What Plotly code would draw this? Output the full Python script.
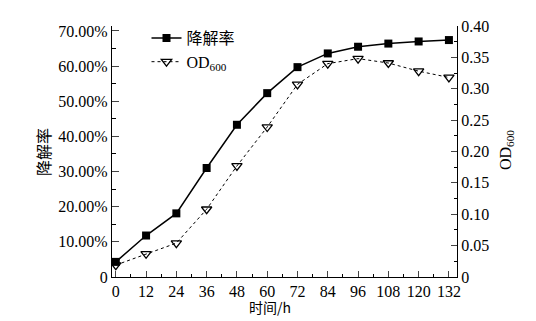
import plotly.graph_objects as go

hours = [0, 12, 24, 36, 48, 60, 72, 84, 96, 108, 120, 132]
degradation = [0.043, 0.118, 0.181, 0.310, 0.433, 0.523, 0.597, 0.636, 0.655, 0.664, 0.670, 0.674]
od600 = [0.019, 0.037, 0.054, 0.108, 0.177, 0.239, 0.307, 0.340, 0.348, 0.341, 0.328, 0.318]

left_ticks = [0, 0.1, 0.2, 0.3, 0.4, 0.5, 0.6, 0.7]
left_labels = ["0", "10.00%", "20.00%", "30.00%", "40.00%", "50.00%", "60.00%", "70.00%"]
right_ticks = [0, 0.05, 0.10, 0.15, 0.20, 0.25, 0.30, 0.35, 0.40]
right_labels = ["0", "0.05", "0.10", "0.15", "0.20", "0.25", "0.30", "0.35", "0.40"]

serif = "Liberation Serif"
cjk = "Noto Sans CJK SC"

fig = go.Figure()
fig.add_trace(go.Scatter(
    x=hours, y=degradation, name="降解率", mode="lines+markers",
    line=dict(color="black", width=1.5),
    marker=dict(symbol="square", size=8, color="black"),
    yaxis="y"))
fig.add_trace(go.Scatter(
    x=hours, y=od600, name="OD<sub>600</sub>", mode="lines+markers",
    line=dict(color="black", width=1, dash="dot"),
    marker=dict(symbol="triangle-down-open", size=9, color="black", line=dict(width=1.3)),
    yaxis="y2"))

fig.update_layout(
    width=536, height=321,
    margin=dict(l=112, r=79, t=26, b=44, autoexpand=False),
    paper_bgcolor="white", plot_bgcolor="white",
    font=dict(family=serif, size=16, color="black"),
    showlegend=True,
    legend=dict(x=0.1, y=1.02, xanchor="left", yanchor="top",
                bgcolor="rgba(0,0,0,0)", font=dict(family=serif + ", " + cjk, size=16),
                itemwidth=30, tracegroupgap=0),
    xaxis=dict(range=[-1.5, 135.2], tickvals=hours, ticks="inside", ticklen=6,
               tickwidth=1, showline=True, linecolor="black", linewidth=1.2,
               showgrid=False, zeroline=False, automargin=False,
               minor=dict(dtick=6, tick0=0, ticks="inside", ticklen=3, tickcolor="black"),
               tickfont=dict(family=serif, size=16)),
    yaxis=dict(range=[0, 0.714], tickvals=left_ticks, ticktext=left_labels,
               ticks="inside", ticklen=7, showline=True, linecolor="black",
               linewidth=1.2, showgrid=False, zeroline=False, automargin=False,
               minor=dict(dtick=0.05, tick0=0, ticks="inside", ticklen=4, tickcolor="black"),
               tickfont=dict(family=serif, size=16)),
    yaxis2=dict(range=[0, 0.40], tickvals=right_ticks, ticktext=right_labels,
                overlaying="y", side="right", anchor="x", automargin=False,
                ticks="inside", ticklen=6, showline=True, linecolor="black",
                linewidth=1.2, showgrid=False, zeroline=False,
                minor=dict(dtick=0.025, tick0=0, ticks="inside", ticklen=3, tickcolor="black"),
                tickfont=dict(family=serif, size=16)),
    annotations=[
        dict(text="时间/h", xref="paper", yref="paper", x=(270 - 112) / 345, y=-(307 - 277) / 251,
             xanchor="center", yanchor="middle", showarrow=False,
             font=dict(family=cjk, size=14)),
        dict(text="降解率", xref="paper", yref="paper", x=-(112 - 43) / 345, y=(277 - 152) / 251,
             xanchor="center", yanchor="middle", showarrow=False, textangle=-90,
             font=dict(family=cjk, size=16)),
        dict(text="OD<sub>600</sub>", xref="paper", yref="paper", x=1 + (506 - 457) / 345,
             y=(277 - 150) / 251, xanchor="center", yanchor="middle", showarrow=False,
             textangle=-90, font=dict(family=serif, size=16)),
    ],
)

fig.write_html("out.html", config={"displayModeBar": False},
               post_script="document.body.style.margin='0px';")
